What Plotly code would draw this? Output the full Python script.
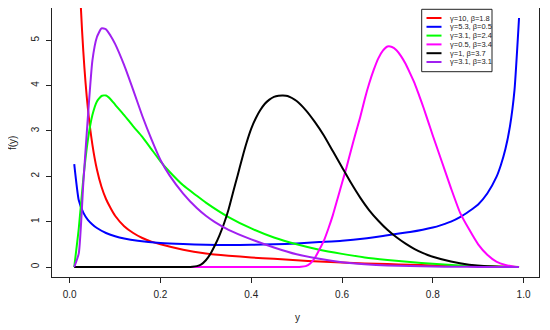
import plotly.graph_objects as go

# ---- data ----
red_x = [0.01, 0.02, 0.03, 0.04, 0.05, 0.06, 0.07, 0.08, 0.09, 0.10, 0.12, 0.14, 0.16, 0.18, 0.20,
         0.25, 0.30, 0.35, 0.40, 0.45, 0.50, 0.55, 0.60, 0.65, 0.70, 0.75, 0.80, 0.85, 0.90, 0.95, 0.99]
red_y = [14.0, 6.9, 4.75, 3.5, 2.7, 2.15, 1.77, 1.5, 1.3, 1.13, 0.9, 0.75, 0.64, 0.56, 0.5,
         0.38, 0.30, 0.25, 0.21, 0.18, 0.15, 0.12, 0.10, 0.08, 0.065, 0.05, 0.035, 0.025, 0.015, 0.007, 0.001]

blue_x = [0.01, 0.02, 0.03, 0.04, 0.05, 0.06, 0.08, 0.10, 0.12, 0.15, 0.20, 0.25, 0.30, 0.35, 0.40,
          0.45, 0.50, 0.55, 0.60, 0.65, 0.70, 0.75, 0.80, 0.82, 0.84, 0.86, 0.88, 0.90, 0.92, 0.94,
          0.95, 0.96, 0.97, 0.98, 0.99]
blue_y = [2.27, 1.47, 1.2, 1.04, 0.94, 0.86, 0.75, 0.68, 0.63, 0.58, 0.53, 0.505, 0.49, 0.485, 0.49,
          0.50, 0.52, 0.55, 0.58, 0.63, 0.70, 0.77, 0.87, 0.93, 1.0, 1.1, 1.23, 1.38, 1.62, 1.98,
          2.25, 2.6, 3.1, 3.9, 5.49]

green_x = [0.01, 0.02, 0.03, 0.04, 0.05, 0.06, 0.07, 0.08, 0.09, 0.10, 0.12, 0.14, 0.16, 0.18, 0.20,
           0.22, 0.25, 0.28, 0.30, 0.35, 0.40, 0.45, 0.50, 0.55, 0.60, 0.65, 0.70, 0.75, 0.80, 0.85,
           0.90, 0.95, 0.99]
green_y = [0.0, 0.85, 1.95, 2.8, 3.35, 3.65, 3.77, 3.78, 3.7, 3.58, 3.35, 3.1, 2.87, 2.6, 2.33,
           2.1, 1.8, 1.57, 1.42, 1.1, 0.85, 0.65, 0.5, 0.38, 0.29, 0.21, 0.155, 0.11, 0.07, 0.04,
           0.02, 0.007, 0.0]

magenta_x = [0.01, 0.30, 0.50, 0.51, 0.52, 0.53, 0.54, 0.55, 0.56, 0.57, 0.58, 0.59, 0.60, 0.61, 0.62,
             0.63, 0.64, 0.65, 0.66, 0.67, 0.68, 0.69, 0.70, 0.71, 0.72, 0.73, 0.74, 0.75, 0.76, 0.77,
             0.78, 0.79, 0.80, 0.82, 0.84, 0.86, 0.88, 0.90, 0.92, 0.94, 0.96, 0.98, 0.99]
magenta_y = [0.0, 0.0, 0.0, 0.005, 0.02, 0.08, 0.2, 0.38, 0.58, 0.85, 1.15, 1.5, 1.85, 2.2, 2.58,
             2.95, 3.3, 3.7, 4.05, 4.35, 4.6, 4.77, 4.86, 4.85, 4.78, 4.65, 4.48, 4.27, 4.05, 3.78,
             3.5, 3.2, 2.9, 2.32, 1.74, 1.2, 0.83, 0.5, 0.27, 0.12, 0.045, 0.008, 0.0]

black_x = [0.01, 0.15, 0.26, 0.27, 0.28, 0.29, 0.30, 0.31, 0.32, 0.33, 0.34, 0.35, 0.36, 0.37, 0.38,
           0.39, 0.40, 0.41, 0.42, 0.43, 0.44, 0.45, 0.46, 0.47, 0.48, 0.50, 0.52, 0.54, 0.56, 0.58,
           0.60, 0.62, 0.64, 0.66, 0.68, 0.70, 0.72, 0.74, 0.76, 0.78, 0.80, 0.84, 0.88, 0.92, 0.96,
           0.99]
black_y = [0.0, 0.0, 0.0, 0.005, 0.02, 0.06, 0.15, 0.29, 0.48, 0.7, 0.96, 1.27, 1.65, 2.02, 2.4,
           2.75, 3.05, 3.28, 3.46, 3.6, 3.69, 3.75, 3.775, 3.78, 3.77, 3.66, 3.46, 3.2, 2.9, 2.55,
           2.2, 1.85, 1.53, 1.25, 1.02, 0.82, 0.655, 0.515, 0.395, 0.3, 0.225, 0.12, 0.05, 0.015, 0.003,
           0.0]

purple_x = [0.01, 0.02, 0.03, 0.04, 0.05, 0.06, 0.07, 0.08, 0.09, 0.10, 0.12, 0.14, 0.16, 0.18, 0.20,
            0.22, 0.25, 0.28, 0.30, 0.32, 0.35, 0.40, 0.45, 0.50, 0.55, 0.60, 0.65, 0.70, 0.75, 0.80,
            0.85, 0.90, 0.99]
purple_y = [0.0, 0.3, 1.85, 3.3, 4.55, 5.07, 5.26, 5.24, 5.1, 4.92, 4.45, 3.9, 3.33, 2.82, 2.36,
            2.02, 1.62, 1.3, 1.13, 0.99, 0.82, 0.61, 0.43, 0.28, 0.18, 0.105, 0.06, 0.035, 0.02, 0.01,
            0.005, 0.002, 0.0]

series_names = ["γ=10, β=1.8", "γ=5.3, β=0.5", "γ=3.1, β=2.4", "γ=0.5, β=3.4", "γ=1, β=3.7", "γ=3.1, β=3.1"]
series_colors = ["#FF0000", "#0000FF", "#00FF00", "#FF00FF", "#000000", "#A020F0"]
series_x = [red_x, blue_x, green_x, magenta_x, black_x, purple_x]
series_y = [red_y, blue_y, green_y, magenta_y, black_y, purple_y]

x_ticks = [0.0, 0.2, 0.4, 0.6, 0.8, 1.0]
x_tick_labels = ["0.0", "0.2", "0.4", "0.6", "0.8", "1.0"]
y_ticks = [0, 1, 2, 3, 4, 5]
y_tick_labels = ["0", "1", "2", "3", "4", "5"]

# ---- layout geometry (page pixels; the page body has an 8px margin) ----
OFF = 8
W, H = 550 - OFF, 330 - OFF
ML, MR, MT, MB = 52 - OFF, 11, 0, 53
PW, PH = W - ML - MR, H - MT - MB
FONT = "Liberation Sans, Arial, Helvetica, sans-serif"


def px2paper(px, py):
    return (px - OFF - ML) / PW, (OFF + MT + PH - py) / PH


fig = go.Figure()
for xs, ys, name, col in zip(series_x, series_y, series_names, series_colors):
    fig.add_trace(go.Scatter(x=xs, y=ys, mode="lines", name=name,
                             line=dict(color=col, width=2, shape="spline", smoothing=0.5),
                             showlegend=False))

axis_common = dict(showline=True, mirror=True, linecolor="#222", linewidth=1,
                   ticks="outside", ticklen=5, tickcolor="#222", tickwidth=1,
                   showgrid=False, zeroline=False, automargin=False,
                   tickfont=dict(family=FONT, size=10, color="#222"))
fig.update_xaxes(range=[-0.039, 1.034], tickvals=x_ticks, ticktext=x_tick_labels,
                 ticklabelstandoff=3, **axis_common)
fig.update_yaxes(range=[-0.22, 5.71], tickvals=y_ticks, ticktext=y_tick_labels, tickangle=-90,
                 ticklabelstandoff=3, **axis_common)

shapes = []
annotations = []
# legend box
x0, y0 = px2paper(421.7, 9.3)
x1, y1 = px2paper(492, 71.7)
shapes.append(dict(type="rect", xref="paper", yref="paper", x0=x0, y0=y1, x1=x1, y1=y0,
                   line=dict(color="#222", width=1), fillcolor="white", layer="above"))
row_y = [18, 26.8, 35.6, 44.4, 53.2, 62]
for ry, name, col in zip(row_y, series_names, series_colors):
    lx0, ly = px2paper(426.5, ry)
    lx1, _ = px2paper(441.5, ry)
    shapes.append(dict(type="line", xref="paper", yref="paper", x0=lx0, x1=lx1, y0=ly, y1=ly,
                       line=dict(color=col, width=2), layer="above"))
    tx, _ = px2paper(448, ry)
    annotations.append(dict(xref="paper", yref="paper", x=tx, y=ly, text=name, showarrow=False,
                            xanchor="left", yanchor="middle",
                            font=dict(family=FONT, size=7.5, color="#222")))

# axis titles
ax, ay = px2paper(297, 317)
annotations.append(dict(xref="paper", yref="paper", x=ax, y=ay, text="y", showarrow=False,
                        xanchor="center", yanchor="middle", font=dict(family=FONT, size=10, color="#222")))
fx, fy = px2paper(12, 143)
annotations.append(dict(xref="paper", yref="paper", x=fx, y=fy, text="f(y)", showarrow=False,
                        textangle=-90, xanchor="center", yanchor="middle",
                        font=dict(family=FONT, size=10, color="#222")))

fig.update_layout(width=W, height=H, margin=dict(l=ML, r=MR, t=MT, b=MB, pad=0, autoexpand=False),
                  paper_bgcolor="white", plot_bgcolor="white", showlegend=False,
                  shapes=shapes, annotations=annotations)

fig.write_html("out.html")
